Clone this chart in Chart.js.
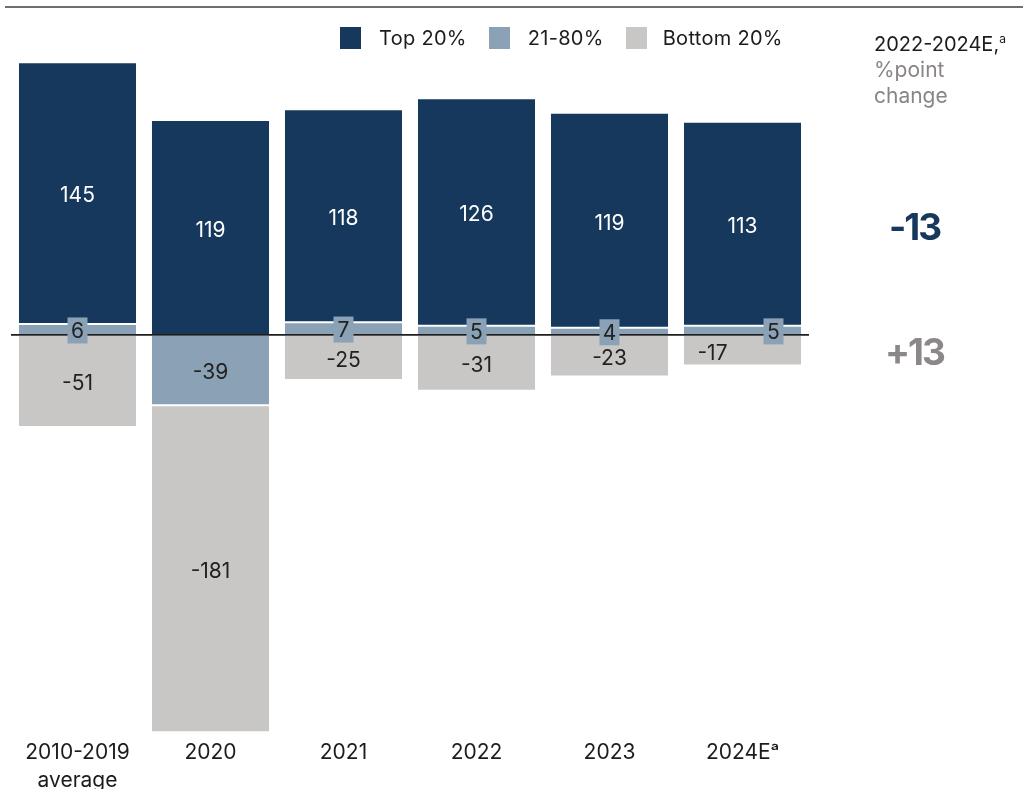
<!DOCTYPE html>
<html>
<head>
<meta charset="utf-8">
<script src="https://cdn.jsdelivr.net/npm/chart.js"></script>
<style>
  html, body { margin: 0; padding: 0; background: #fff; }
  #wrap { position: relative; width: 1028px; height: 789px; font-family: Inter, "Noto Sans", sans-serif; overflow: hidden; }
  #rule { position: absolute; left: 5px; top: 6px; width: 1018px; height: 2px; background: #6e6e6e; }
  #chart { position: absolute; left: 0; top: 0; }
  #legend { position: absolute; left: 340px; top: 27px; display: flex; align-items: center; font-size: 20px; letter-spacing: 0.3px; color: #1c1c1c; }
  #legend .item { display: flex; align-items: center; margin-right: 22px; height: 22px; }
  #legend .box { width: 21px; height: 22px; margin-right: 18px; }
  #legend .item:last-child .box { margin-right: 16px; }
  .note { position: absolute; left: 874px; top: 32px; font-size: 20px; line-height: 25px; color: #1c1c1c; }
  .note sup { font-size: 12px; vertical-align: 8px; line-height: 0; }
  .note .sub { color: #8a8585; font-size: 21px; }
  .delta { position: absolute; font-size: 37px; font-weight: 700; letter-spacing: -2px; }
</style>
</head>
<body>
<div id="wrap">
  <div id="rule"></div>
  <canvas id="chart" width="1028" height="789"></canvas>
  <div id="legend"></div>
  <div class="note">2022-2024E,<sup>a</sup><br><span class="sub">%point<br>change</span></div>
  <div class="delta" style="left:889px; top:204px; color:#15385c;">-13</div>
  <div class="delta" style="left:885px; top:329px; color:#8c8888;">+13</div>
</div>
<script>
// categories and values
const categories = [['2010-2019', 'average'], '2020', '2021', '2022', '2023', '2024E\u1d43']
const top20 = [145, 119, 118, 126, 119, 113]
const mid21to80 = [6, -39, 7, 5, 4, 5]
const bottom20 = [-51, -181, -25, -31, -23, -17]

// colours
const NAVY = '#15385c'
const STEEL = '#8aa1b6'
const SILVER = '#c8c7c5'
const FONT = 'Inter, "Noto Sans", sans-serif'

// legend shows Top, 21-80, Bottom; stacking needs the middle band next to zero
const legendOrder = [1, 0, 2]
// sideways nudges for crowded labels (dataset index -> {point index: px})
const labelNudge = { 0: { 5: 31 }, 2: { 5: -30 } }

const valueLabels = {
  id: 'valueLabels',
  afterDatasetsDraw (chart) {
    const { ctx, chartArea, scales: { y } } = chart
    const y0 = y.getPixelForValue(0)
    ctx.save()
    // zero line over the bars
    ctx.strokeStyle = '#1e1e1e'
    ctx.lineWidth = 1.6
    ctx.beginPath()
    ctx.moveTo(chartArea.left, y0)
    ctx.lineTo(chartArea.right, y0)
    ctx.stroke()

    ctx.font = '21px ' + FONT
    ctx.textAlign = 'center'
    ctx.textBaseline = 'middle'
    chart.data.datasets.forEach((ds, di) => {
      const meta = chart.getDatasetMeta(di)
      meta.data.forEach((bar, i) => {
        const v = ds.data[i]
        const p = bar.getProps(['x', 'y', 'base'], true)
        const cy = (p.y + p.base) / 2
        const cx = p.x + ((labelNudge[di] && labelNudge[di][i]) || 0)
        if (ds.boxed && v > 0) {
          ctx.fillStyle = ds.backgroundColor
          ctx.fillRect(cx - 10, cy - 12, 20, 26)
          ctx.fillStyle = ds.labelColor
          ctx.fillText(String(v), cx, cy + 2)
        } else {
          ctx.fillStyle = ds.labelColor
          ctx.fillText(String(v), cx, cy + 3)
        }
      })
    })
    ctx.restore()
  }
}

const chart = new Chart(document.getElementById('chart'), {
  type: 'bar',
  data: {
    labels: categories,
    datasets: [
      { label: '21-80%', data: mid21to80, backgroundColor: STEEL, labelColor: '#222', boxed: true },
      { label: 'Top 20%', data: top20, backgroundColor: NAVY, labelColor: '#fff' },
      { label: 'Bottom 20%', data: bottom20, backgroundColor: SILVER, labelColor: '#222' }
    ].map(d => Object.assign(d, {
      borderColor: '#fff',
      borderWidth: 1,
      borderSkipped: false,
      barPercentage: 0.895,
      categoryPercentage: 1
    }))
  },
  options: {
    responsive: false,
    animation: false,
    layout: { padding: { left: 11, right: 219, top: 59.5, bottom: -13 } },
    plugins: {
      tooltip: { enabled: false },
      legend: { display: false }
    },
    scales: {
      x: {
        stacked: true,
        grid: { display: false, drawTicks: false },
        border: { display: false },
        ticks: { color: '#1c1c1c', padding: 7, font: { family: FONT, size: 21, lineHeight: 1.33 }, maxRotation: 0 }
      },
      y: {
        stacked: true,
        display: false,
        min: -220,
        max: 152.5
      }
    }
  },
  plugins: [valueLabels]
})

// html legend built from the chart's datasets
const legendEl = document.getElementById('legend')
legendOrder.forEach(di => {
  const ds = chart.data.datasets[di]
  const item = document.createElement('div')
  item.className = 'item'
  item.innerHTML = '<span class="box" style="background:' + ds.backgroundColor + '"></span><span>' + ds.label + '</span>'
  legendEl.appendChild(item)
})
</script>
</body>
</html>
